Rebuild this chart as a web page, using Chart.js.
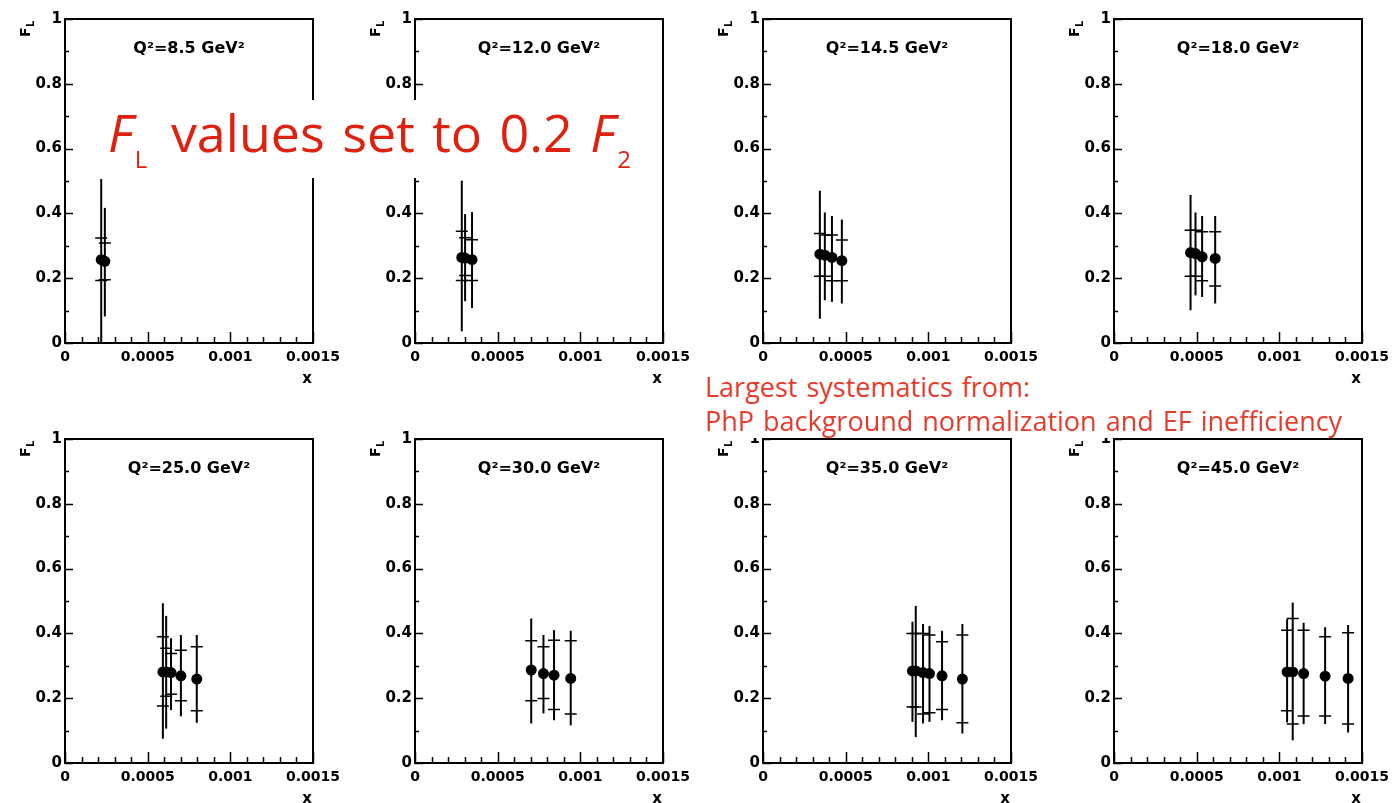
<!DOCTYPE html>
<html>
<head>
<meta charset="utf-8">
<script src="https://cdn.jsdelivr.net/npm/chart.js@4.4.0/dist/chart.umd.min.js"></script>
<style>
html, body { margin: 0; padding: 0; background: #fff; }
#page { position: relative; width: 1395px; height: 803px; overflow: hidden; background: #fff; }
#page canvas { position: absolute; }
.whiteBox { position: absolute; background: #fff; }
.note { position: absolute; white-space: nowrap; font-family: 'Open Sans', sans-serif; }
.big { color: #dd2211; font-size: 52px; line-height: 52px; word-spacing: 4px; }
.big i { font-style: italic; }
.big sub { font-size: 24px; vertical-align: -16px; line-height: 0; margin-left: 2px; }
.big sub.first { margin-right: 6px; }
.small { color: #e63b2b; font-size: 27px; line-height: 27px; word-spacing: 2px; }
</style>
</head>
<body>
<div id="page">
  <div class="whiteBox" style="left:100px;top:100px;width:540px;height:78px;"></div>
  <div class="note big" style="left:108px;top:106px;"><i>F</i><sub class="first">L</sub> values set to 0.2 <i>F</i><sub>2</sub></div>
  <div class="whiteBox" style="left:700px;top:365px;width:645px;height:73px;"></div>
  <div class="note small" style="left:705px;top:373px;">Largest systematics from:</div>
  <div class="note small" style="left:705px;top:407px;">PhP background normalization and EF inefficiency</div>
</div>
<script>
// one panel per Q2 bin, F_L vs x with stat (inner ticks) and total (outer line) errors
var panelTitles = ['Q\u00b2=8.5 GeV\u00b2', 'Q\u00b2=12.0 GeV\u00b2', 'Q\u00b2=14.5 GeV\u00b2', 'Q\u00b2=18.0 GeV\u00b2',
                   'Q\u00b2=25.0 GeV\u00b2', 'Q\u00b2=30.0 GeV\u00b2', 'Q\u00b2=35.0 GeV\u00b2', 'Q\u00b2=45.0 GeV\u00b2'];

var xValues = [
    [0.000219, 0.000241],
    [0.000283, 0.000303, 0.000345],
    [0.000344, 0.000374, 0.000417, 0.000477],
    [0.000463, 0.000493, 0.000533, 0.000612],
    [0.000592, 0.000612, 0.000641, 0.000701, 0.000797],
    [0.000703, 0.000777, 0.000841, 0.000942],
    [0.000904, 0.000924, 0.000968, 0.001007, 0.001083, 0.001206],
    [0.001047, 0.001081, 0.001147, 0.001277, 0.001416]
];
var flValues = [
    [0.257, 0.252],
    [0.264, 0.262, 0.257],
    [0.274, 0.271, 0.264, 0.254],
    [0.279, 0.276, 0.266, 0.261],
    [0.281, 0.281, 0.279, 0.269, 0.259],
    [0.287, 0.276, 0.271, 0.261],
    [0.284, 0.284, 0.279, 0.276, 0.269, 0.259],
    [0.281, 0.281, 0.276, 0.268, 0.261]
];
var statHigh = [
    [0.324, 0.309],
    [0.345, 0.325, 0.319],
    [0.338, 0.333, 0.333, 0.318],
    [0.348, 0.348, 0.343, 0.343],
    [0.390, 0.354, 0.338, 0.348, 0.359],
    [0.377, 0.359, 0.379, 0.377],
    [0.400, 0.400, 0.400, 0.395, 0.374, 0.395],
    [0.410, 0.446, 0.410, 0.390, 0.402]
];
var statLow = [
    [0.193, 0.195],
    [0.193, 0.208, 0.193],
    [0.206, 0.206, 0.192, 0.192],
    [0.206, 0.206, 0.192, 0.176],
    [0.176, 0.206, 0.212, 0.192, 0.161],
    [0.192, 0.199, 0.165, 0.151],
    [0.173, 0.173, 0.151, 0.155, 0.165, 0.124],
    [0.161, 0.120, 0.145, 0.145, 0.120]
];
var totHigh = [
    [0.506, 0.417],
    [0.501, 0.398, 0.404],
    [0.470, 0.403, 0.392, 0.381],
    [0.457, 0.403, 0.392, 0.392],
    [0.493, 0.454, 0.385, 0.395, 0.395],
    [0.446, 0.395, 0.410, 0.408],
    [0.436, 0.485, 0.429, 0.423, 0.408, 0.429],
    [0.444, 0.495, 0.433, 0.419, 0.426]
];
var totLow = [
    [0.0, 0.082],
    [0.036, 0.129, 0.108],
    [0.075, 0.132, 0.127, 0.122],
    [0.101, 0.147, 0.142, 0.122],
    [0.075, 0.106, 0.163, 0.144, 0.124],
    [0.122, 0.153, 0.132, 0.116],
    [0.127, 0.080, 0.122, 0.127, 0.132, 0.091],
    [0.125, 0.070, 0.120, 0.120, 0.094]
];

var xTickValues = [0, 0.0005, 0.001, 0.0015];
var xTickLabels = ['0', '0.0005', '0.001', '0.0015'];
var yTickValues = [0, 0.2, 0.4, 0.6, 0.8, 1];
var yTickLabels = ['0', '0.2', '0.4', '0.6', '0.8', '1'];

// layout (page pixels)
var PLOT_LEFTS = [65, 415, 763, 1114];
var PLOT_TOPS = [19, 439];
var PLOT_W = 251, PLOT_H = 324;
var Y_AXIS_W = 64, X_AXIS_H = 44, PAD_TOP = 19, PAD_RIGHT = 30;

var TICK_FONT = { family: 'DejaVu Sans', weight: 'bold', size: 14 };

function makePanelPlugin(p) {
    return {
        id: 'rootPanel' + p,
        beforeDatasetsDraw: function (chart) {
            var ctx = chart.ctx, xs = chart.scales.x, ys = chart.scales.y, a = chart.chartArea;
            var i, px, v;
            ctx.save();
            ctx.strokeStyle = '#000';

            // axis ticks, drawn inward like ROOT
            ctx.lineWidth = 1.5;
            ctx.beginPath();
            for (i = 0; i <= 15; i++) {
                v = i * 0.0001;
                px = Math.round(xs.getPixelForValue(v)) + 0.5;
                ctx.moveTo(px, a.bottom);
                ctx.lineTo(px, a.bottom - (i % 5 === 0 ? 11 : 6));
            }
            for (i = 0; i <= 10; i++) {
                v = i * 0.1;
                var py = Math.round(ys.getPixelForValue(v)) + 0.5;
                ctx.moveTo(a.left, py);
                ctx.lineTo(a.left + (i % 2 === 0 ? 8 : 4), py);
            }
            ctx.stroke();

            // frame
            ctx.lineWidth = 2;
            ctx.strokeRect(a.left, a.top, a.right - a.left, a.bottom - a.top);

            // error bars
            for (i = 0; i < xValues[p].length; i++) {
                px = xs.getPixelForValue(xValues[p][i]);
                ctx.lineWidth = 2;
                ctx.beginPath();
                ctx.moveTo(px, ys.getPixelForValue(totHigh[p][i]));
                ctx.lineTo(px, ys.getPixelForValue(totLow[p][i]));
                ctx.stroke();
                ctx.lineWidth = 1.5;
                ctx.beginPath();
                var sh = ys.getPixelForValue(statHigh[p][i]);
                var sl = ys.getPixelForValue(statLow[p][i]);
                ctx.moveTo(px - 6, sh); ctx.lineTo(px + 6, sh);
                ctx.moveTo(px - 6, sl); ctx.lineTo(px + 6, sl);
                ctx.stroke();
            }
            ctx.restore();
        },
        afterDraw: function (chart) {
            var ctx = chart.ctx, a = chart.chartArea;
            ctx.save();
            ctx.fillStyle = '#000';
            // bin label
            ctx.font = 'bold 16px "DejaVu Sans"';
            ctx.textAlign = 'center';
            ctx.textBaseline = 'alphabetic';
            ctx.fillText(panelTitles[p], (a.left + a.right) / 2, a.top + 34);
            // x title
            ctx.font = 'bold 15px "DejaVu Sans"';
            ctx.textAlign = 'right';
            ctx.fillText('x', a.right - 1, a.bottom + 40);
            // y title F_L, rotated
            ctx.translate(a.left - 35, a.top + 18);
            ctx.rotate(-Math.PI / 2);
            ctx.textAlign = 'left';
            ctx.font = 'bold 14px "DejaVu Sans"';
            ctx.fillText('F', 0, 0);
            ctx.font = 'bold 10px "DejaVu Sans"';
            ctx.fillText('L', 10, 4);
            ctx.restore();
        }
    };
}

function createPanel(p) {
    var col = p % 4, row = Math.floor(p / 4);
    var canvas = document.createElement('canvas');
    canvas.width = Y_AXIS_W + PLOT_W + PAD_RIGHT;
    canvas.height = PAD_TOP + PLOT_H + X_AXIS_H;
    canvas.style.left = (PLOT_LEFTS[col] - Y_AXIS_W) + 'px';
    canvas.style.top = (PLOT_TOPS[row] - PAD_TOP) + 'px';
    var page = document.getElementById('page');
    page.insertBefore(canvas, page.firstChild);

    var points = [];
    for (var i = 0; i < xValues[p].length; i++) {
        points.push({ x: xValues[p][i], y: flValues[p][i] });
    }

    return new Chart(canvas.getContext('2d'), {
        type: 'scatter',
        data: {
            datasets: [{
                data: points,
                pointRadius: 5.5,
                pointHoverRadius: 5.5,
                pointBorderWidth: 0,
                backgroundColor: '#000',
                borderColor: '#000'
            }]
        },
        options: {
            responsive: false,
            animation: false,
            devicePixelRatio: 1,
            events: [],
            layout: { padding: { left: 0, top: PAD_TOP, right: PAD_RIGHT, bottom: 0 } },
            plugins: { legend: { display: false }, tooltip: { enabled: false } },
            scales: {
                x: {
                    type: 'linear',
                    min: 0,
                    max: 0.0015,
                    afterFit: function (s) { s.height = X_AXIS_H; },
                    afterBuildTicks: function (s) { s.ticks = xTickValues.map(function (v) { return { value: v }; }); },
                    ticks: {
                        autoSkip: false,
                        maxRotation: 0,
                        padding: 6,
                        color: '#000',
                        font: TICK_FONT,
                        callback: function (value, index) { return xTickLabels[index]; }
                    },
                    grid: { display: false, drawTicks: false },
                    border: { display: false }
                },
                y: {
                    type: 'linear',
                    min: 0,
                    max: 1,
                    afterFit: function (s) { s.width = Y_AXIS_W; },
                    afterBuildTicks: function (s) { s.ticks = yTickValues.map(function (v) { return { value: v }; }); },
                    ticks: {
                        autoSkip: false,
                        padding: 3,
                        color: '#000',
                        font: { family: 'DejaVu Sans', weight: 'bold', size: 15 },
                        callback: function (value, index) { return yTickLabels[index]; }
                    },
                    grid: { display: false, drawTicks: false },
                    border: { display: false }
                }
            }
        },
        plugins: [makePanelPlugin(p)]
    });
}

for (var p = 0; p < panelTitles.length; p++) createPanel(p);
</script>
</body>
</html>
